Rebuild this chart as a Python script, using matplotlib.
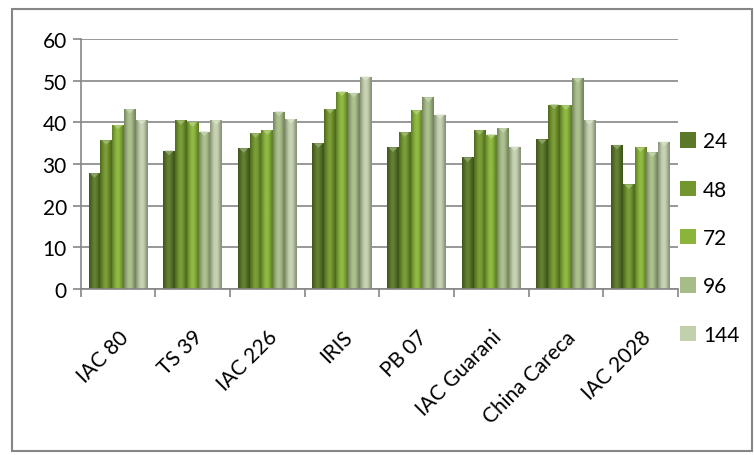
import numpy as np
import matplotlib.pyplot as plt
import matplotlib.transforms as mtrans
from matplotlib.patches import Rectangle
from matplotlib.colors import to_rgb

plt.rcParams['font.family'] = ['Lato', 'DejaVu Sans']

categories = ['IAC 80', 'TS 39', 'IAC 226', 'IRIS', 'PB 07', 'IAC Guarani', 'China Careca', 'IAC 2028']
series_names = ['24', '48', '72', '96', '144']
v24 = [27.8, 33.2, 33.8, 35.0, 34.0, 31.6, 35.9, 34.6]
v48 = [35.7, 40.5, 37.4, 43.2, 37.6, 38.1, 44.3, 25.1]
v72 = [39.4, 40.0, 38.1, 47.4, 42.9, 37.1, 44.1, 34.0]
v96 = [43.2, 37.8, 42.6, 47.1, 46.0, 38.6, 50.6, 32.8]
v144 = [40.5, 40.5, 40.8, 51.0, 41.9, 34.2, 40.5, 35.4]
values = [v24, v48, v72, v96, v144]
colors = ['#5a7828', '#72972e', '#8ab53a', '#a7bd88', '#c3d0ae']

fig = plt.figure(figsize=(7.54, 4.56), dpi=100)
ax = fig.add_axes([0.107, 0.364, 0.792, 0.548])

# outer chart border
fig.patches.append(Rectangle((12 / 754, 4 / 456), 740 / 754, 442 / 456, transform=fig.transFigure,
                             fill=False, edgecolor='#868686', linewidth=1.5, zorder=0))

x = np.arange(len(categories))
w = 0.158


def shade(c, f):
    r = np.array(to_rgb(c))
    if f < 1:
        return r * f
    return r + (1 - r) * (f - 1)


for i, (vals, col) in enumerate(zip(values, colors)):
    pos = x + (i - 2) * w
    bars = ax.bar(pos, vals, w, color=col, edgecolor='none', label=series_names[i], zorder=2)
    # horizontal gradient for the bevelled look
    prof = np.array([0.72, 0.85, 0.95, 1.05, 1.08, 1.02, 0.92, 0.8, 0.7])
    grad = np.array([[shade(col, f) for f in prof]])
    for b in bars:
        x0, y0 = b.get_x(), b.get_y()
        bw, bh = b.get_width(), b.get_height()
        im = ax.imshow(grad, extent=[x0, x0 + bw, y0, y0 + bh], aspect='auto', zorder=2.5,
                       interpolation='bicubic')
        im.set_clip_path(b)
        ax.fill([x0 + bw * 0.12, x0 + bw / 2, x0 + bw * 0.88], [y0 + bh, y0 + bh - 1.1, y0 + bh],
                color=shade(col, 1.3), lw=0, zorder=3)

ax.set_xlim(-0.5, len(categories) - 0.5)
ax.set_ylim(0, 60)
ax.set_yticks(range(0, 61, 10))
ax.yaxis.grid(True, color='#868686', linewidth=1.2, zorder=0)
ax.set_axisbelow(True)
ax.set_xticks(x)
ax.set_xticklabels(categories, rotation=45, ha='right', rotation_mode='anchor', fontsize=15)
offset = mtrans.ScaledTranslation(6 / 100, 0, fig.dpi_scale_trans)
for lab in ax.get_xticklabels():
    lab.set_transform(lab.get_transform() + offset)
ax.set_xticks(np.arange(-0.5, len(categories)), minor=True)
ax.tick_params(axis='x', which='major', length=0, pad=27)
ax.tick_params(axis='x', which='minor', length=6, color='#868686', width=1.2)
ax.tick_params(axis='y', length=6, color='#868686', width=1.2, labelsize=15, pad=4)
for s in ['top', 'right']:
    ax.spines[s].set_visible(False)
for s in ['left', 'bottom']:
    ax.spines[s].set_color('#868686')
    ax.spines[s].set_linewidth(1.2)

ax.legend(loc='upper left', bbox_to_anchor=(0.99, 0.665), frameon=False, fontsize=15,
          handlelength=0.75, handleheight=0.75, labelspacing=1.36, handletextpad=0.35, borderaxespad=0)

fig.savefig('out.png', dpi=100)
